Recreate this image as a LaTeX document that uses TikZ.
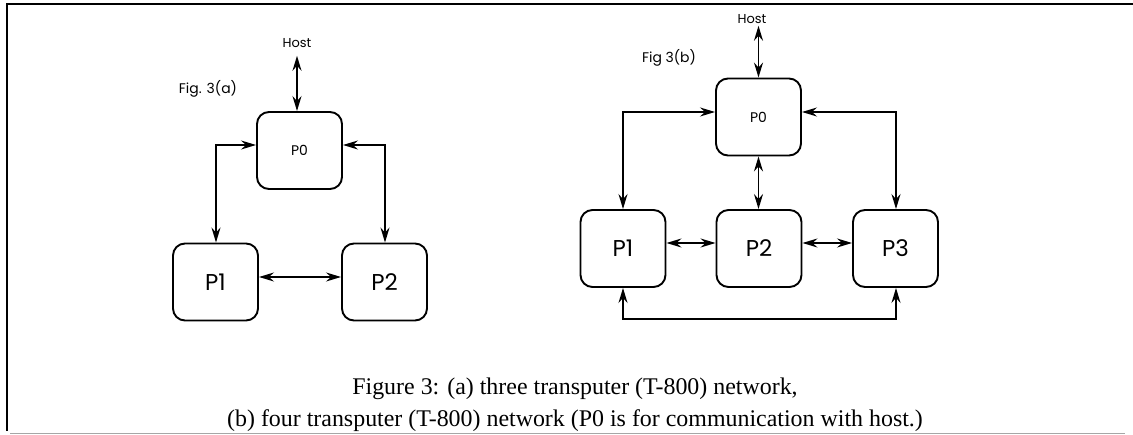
\documentclass[tikz,border=0pt]{standalone}
\usepackage{fontspec}
\setmainfont{Liberation Serif}
\newfontfamily\diagfont{Poppins}
\usetikzlibrary{arrows.meta,calc}
\begin{document}
\begin{tikzpicture}[x=1bp,y=-1bp,
  proc/.style={draw,line width=1.9bp,rounded corners=12bp,minimum width=85bp,
    minimum height=77bp,inner sep=0pt,font=\diagfont\fontsize{23}{23}\selectfont},
  hub/.style={proc,font=\diagfont\fontsize{14}{14}\selectfont},
  lbl/.style={inner sep=2bp,font=\diagfont\fontsize{13}{13}\selectfont},
  tip/.tip={Stealth[length=15bp,width=9bp,inset=5bp]},
  link/.style={line width=1.8bp,tip-tip},
  caption/.style={anchor=base,inner sep=0pt,font=\fontsize{24}{30}\selectfont},
]
\useasboundingbox (0,0) rectangle (1133,435);

% page frame
\draw[line width=2bp] (1133,4.5) -- (7,4.5) -- (7,431);
\draw[black!35,line width=1.5bp] (10,433.5) -- (1125,433.5);

% (a) three transputer network
\node[hub]  (A0) at (299.5,150.5) {P0};
\node[proc] (A1) at (215.5,282) {P1};
\node[proc] (A2) at (384.5,282) {P2};
\node[lbl]  (AH) at (297,43) {Host};
\node[lbl,font=\diagfont\fontsize{14}{14}\selectfont] (AF) at (208,89) {Fig. 3(a)};
\coordinate (AL) at (216,145);
\coordinate (AR) at (385,145);

\draw[link,shorten <=6bp] (AH.south) -- (AH.south |- A0.north);
\draw[link] (AL -| A0.west) -- (AL) -- (AL |- A1.north);
\draw[link] (AR -| A0.east) -- (AR) -- (AR |- A2.north);
\draw[link] ([yshift=5bp]A1.east) -- ([yshift=5bp]A2.west);

% (b) four transputer network
\node[hub]  (B0) at (758.5,117) {P0};
\node[proc] (B1) at (623,248.5) {P1};
\node[proc] (B2) at (759,248.5) {P2};
\node[proc] (B3) at (895.5,248.5) {P3};
\node[lbl]  (BH) at (752,19) {Host};
\node[lbl,font=\diagfont\fontsize{14}{14}\selectfont] (BF) at (669,58) {Fig 3(b)};
\coordinate (BL) at (623,112);
\coordinate (BR) at (896,112);
\coordinate (BB) at (623,319);

\draw[link] (BH.south -| B0.north) -- (B0.north);
\draw[link] (BL -| B0.west) -- (BL) -- (BL |- B1.north);
\draw[link] (BR -| B0.east) -- (BR) -- (BR |- B3.north);
\draw[link] (B0.south) -- (B0.south |- B2.north);
\draw[link] ([yshift=5.5bp]B1.east) -- ([yshift=5.5bp]B2.west);
\draw[link] ([yshift=5.5bp]B2.east) -- ([yshift=5.5bp]B3.west);
\draw[link] (B1.south) -- (BB) -- (BB -| BR) -- (BR |- B3.south);

% caption
\node[caption] (C1) at (575,395) {Figure 3: (a) three transputer (T-800) network,};
\node[caption] (C2) at (575,427) {(b) four transputer (T-800) network (P0 is for communication with host.)};
\end{tikzpicture}
\end{document}
